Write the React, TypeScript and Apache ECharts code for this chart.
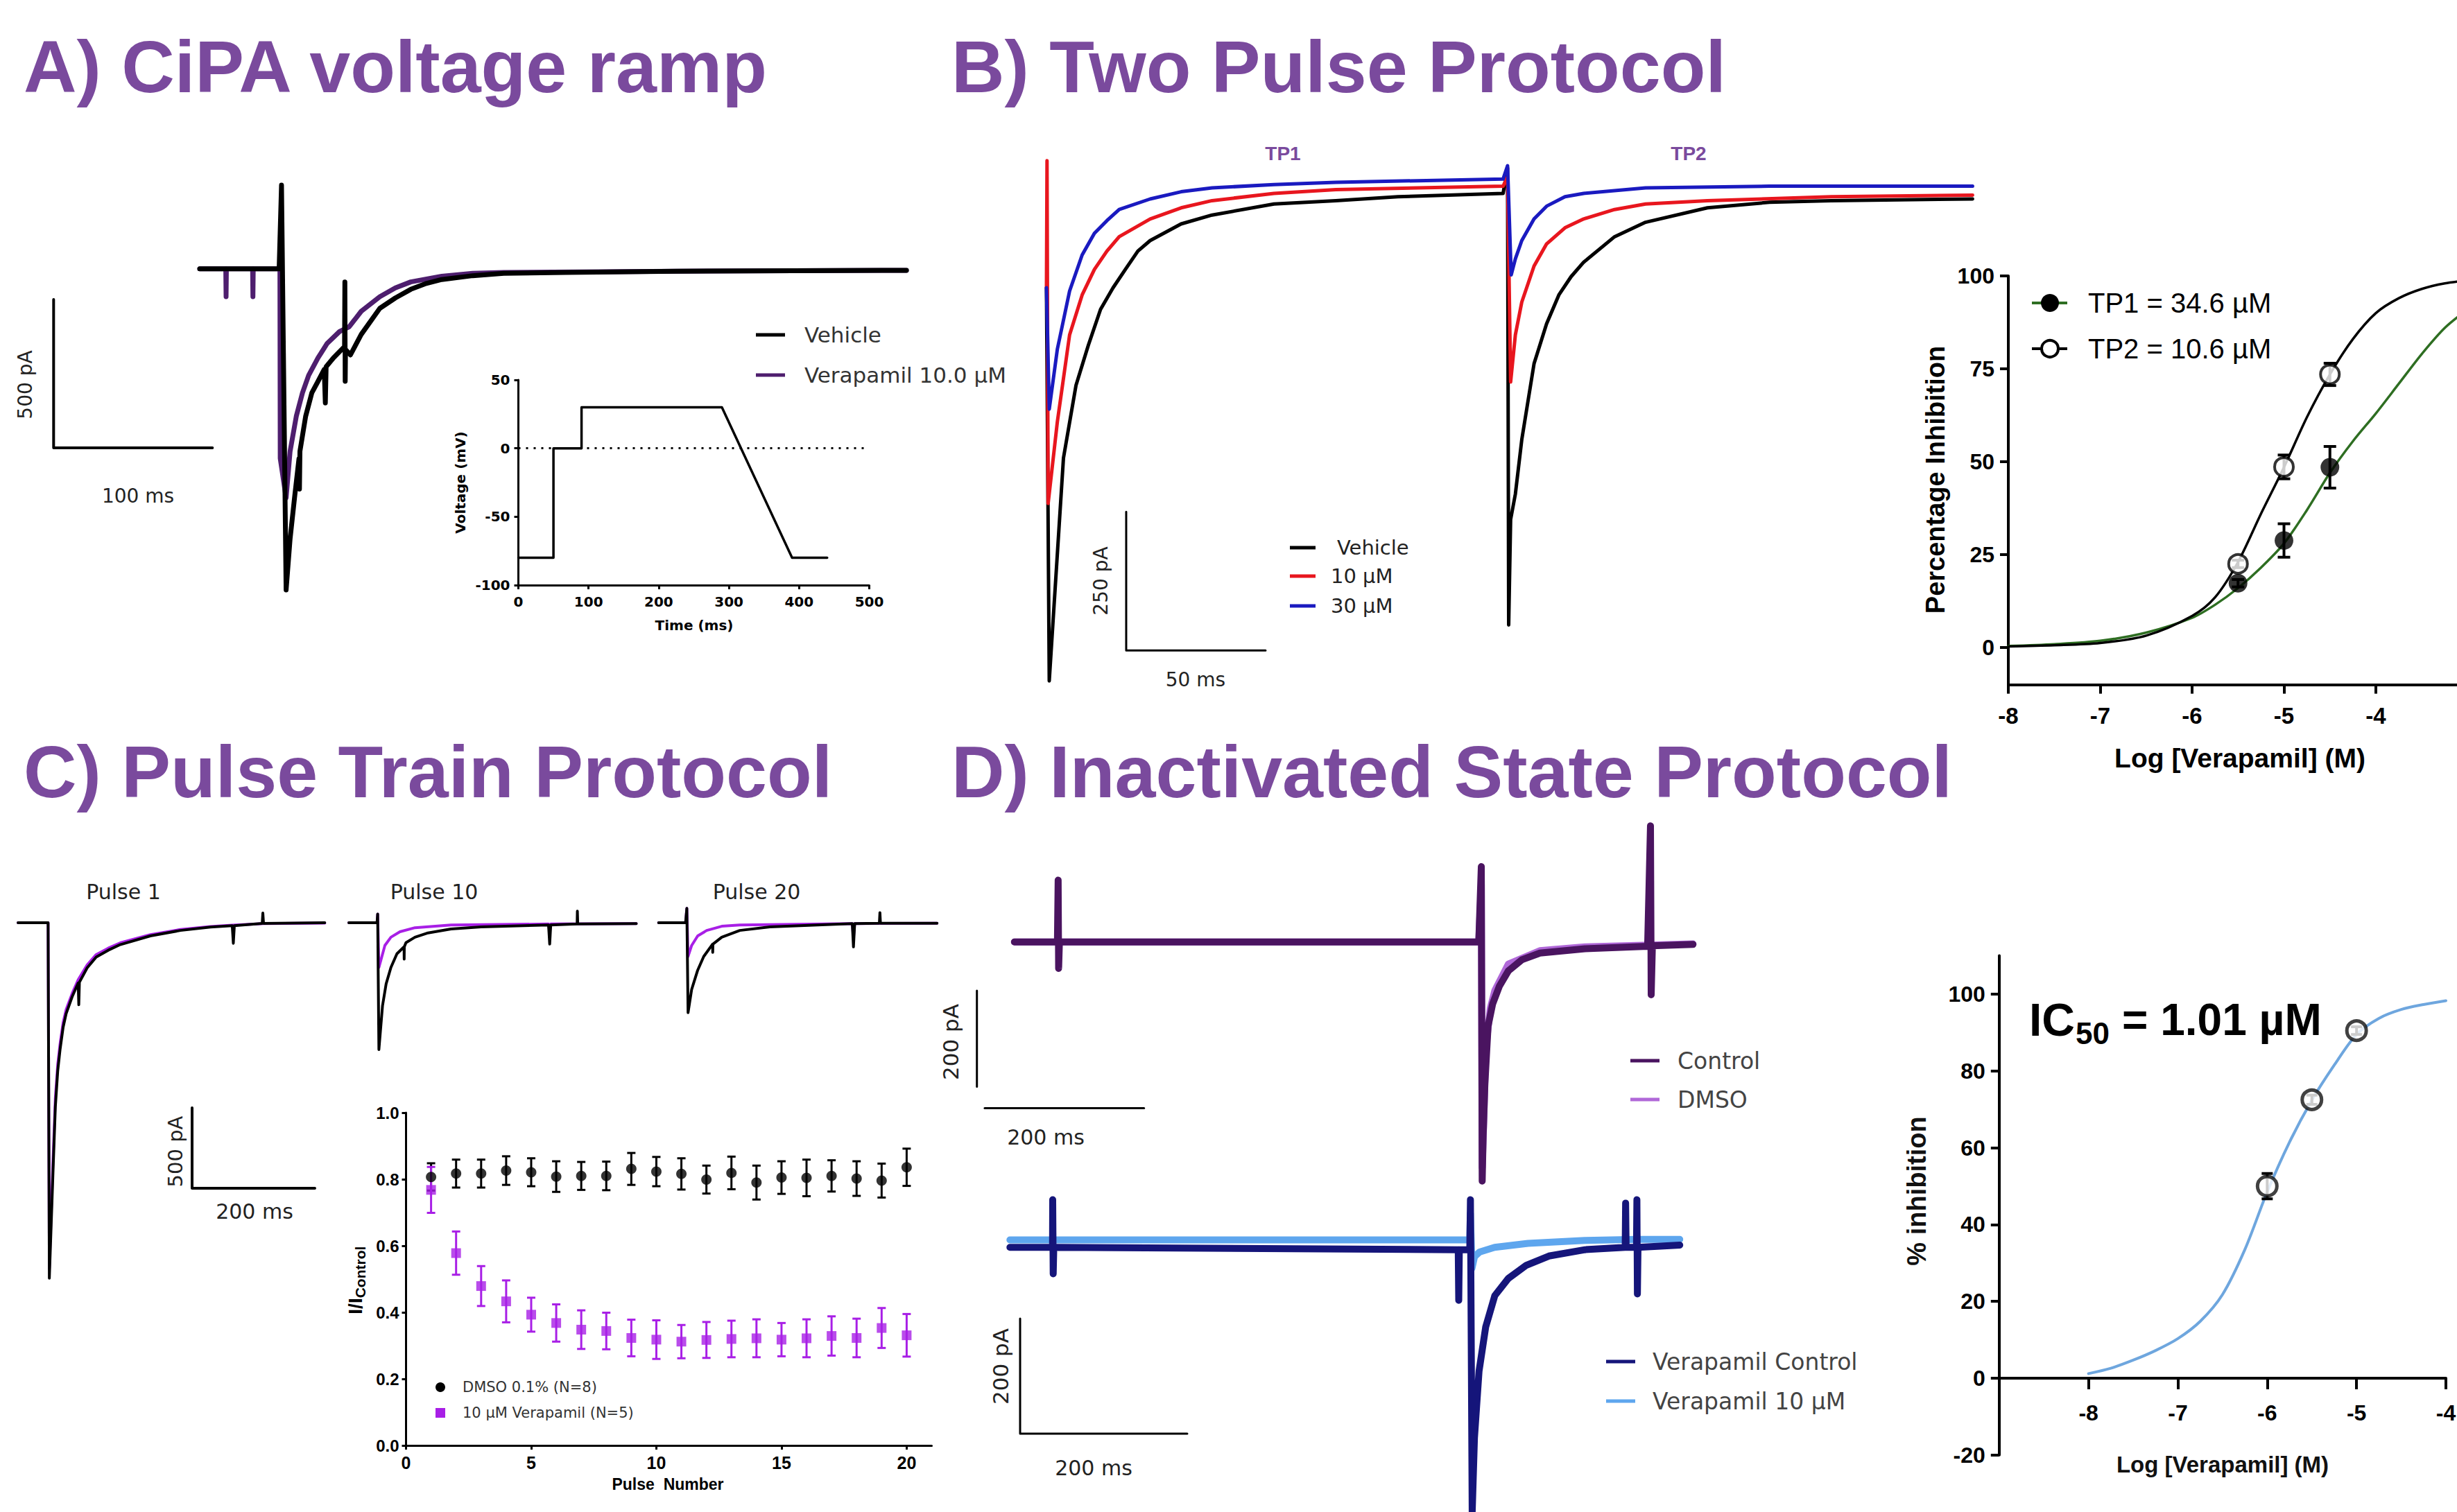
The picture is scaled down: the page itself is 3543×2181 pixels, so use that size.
import React, { useEffect, useRef } from 'react';
import * as echarts from 'echarts';

type Pt = [number, number];

const W = 3543;
const H = 2181;
const SANS = '"Liberation Sans", Arial, sans-serif';
const GOTHIC = '"DejaVu Sans", sans-serif';

// ---------------- Panel A : CiPA voltage ramp (time ms, current pA) ----------------
const rampVehicle: Pt[] = [
  [0, 0], [50, 0], [51.5, 282], [54.4, -1082], [56.9, -910], [59.9, -762], [62.5, -640], [62.8, -742],
  [63.1, -615], [66.7, -497], [70.6, -418], [74.5, -379], [78.4, -339], [79.1, -452], [79.6, -330],
  [84.2, -300], [91.2, -262], [91.4, -44], [91.6, -379], [91.8, -272], [94.9, -290], [101.7, -221],
  [113.4, -133], [123.2, -98], [132.9, -69], [142.7, -49], [152.4, -36], [171.9, -23], [191.4, -15],
  [230.4, -12], [300, -8], [445, -5],
];
const rampVerapamil: Pt[] = [
  [0, 0], [16.4, 0], [16.6, -94], [16.8, 0], [33.3, 0], [33.5, -94], [33.7, 0], [50.5, 0], [50.7, -639],
  [54.4, -772], [56.9, -615], [60.8, -497], [64.7, -418], [68.6, -359], [74.5, -300], [80.3, -251],
  [88.1, -211], [94, -196], [101.7, -143], [113.4, -94], [123.2, -64], [132.9, -44], [152.4, -25],
  [171.9, -15], [191.4, -12], [300, -8], [445, -5],
];
const rampScaleBar = { t: -92, i: -603, dt: 100, di: 500 };
const protocolTime = [0, 50, 50, 90, 90, 290, 390, 440];
const protocolVoltage = [-80, -80, 0, 0, 30, 30, -80, -80];

// ---------------- Panel B : two pulse protocol ----------------
const tpVehicle: Pt[] = [
  [0, -170], [1.0, -879], [6.1, -477], [10.6, -346], [15, -274], [19.4, -209], [23.9, -170], [28.3, -137],
  [32.8, -104], [37.2, -85], [48.3, -55], [59.4, -39], [81.6, -19], [103.8, -13], [126.1, -6], [163.8, 0],
  [165.4, 46], [165.8, -778], [166.5, -588], [168.2, -542], [170.5, -444], [174.9, -307], [179.4, -235],
  [183.8, -183], [188.2, -150], [192.7, -124], [203.8, -78], [214.9, -52], [237.1, -26], [259.3, -16],
  [281.5, -13], [332.2, -10],
];
const tp10uM: Pt[] = [
  [0, -170], [0.2, 59], [0.6, -559], [3.9, -412], [8.3, -255], [12.8, -183], [17.2, -137], [21.7, -104],
  [26.1, -78], [37.2, -46], [48.3, -26], [59.4, -13], [81.6, 0], [103.8, 7], [163.8, 13], [165.4, 30],
  [166.5, -340], [168.2, -255], [170.5, -196], [174.9, -131], [179.4, -91], [186, -62], [192.7, -46],
  [203.8, -29], [214.9, -19], [237.1, -13], [281.5, -6], [332.2, -3],
];
const tp30uM: Pt[] = [
  [0, -170], [1.0, -389], [3.9, -281], [8.3, -176], [12.8, -111], [17.2, -72], [21.7, -49], [26.1, -29],
  [37.2, -10], [48.3, 3], [59.4, 10], [81.6, 16], [103.8, 20], [163.8, 26], [165.4, 50], [166.7, -147],
  [168.2, -118], [170.5, -85], [174.9, -46], [179.4, -23], [186, -6], [192.7, 0], [214.9, 10], [259.3, 13],
  [332.2, 13],
];
const tpScaleBar = { t: 28.6, i: -824, dt: 50, di: 250 };

const bLogConc = [-5.5, -5, -4.5];
const tp1Mean = [17.3, 28.8, 48.5];
const tp1Err = [1, 4.5, 5.6];
const tp2Mean = [22.5, 48.6, 73.5];
const tp2Err = [1, 3.2, 3.0];
const bFitX = [-8, -7.5, -7, -6.5, -6, -5.75, -5.5, -5.25, -5, -4.75, -4.5, -4.25, -4, -3.75, -3.5, -3.25, -3];
const tp1Fit = [0.4, 0.9, 1.8, 4, 8, 11.5, 16, 21.5, 28, 37, 47, 55.5, 63, 71, 79, 86, 91];
const tp2Fit = [0.3, 0.6, 1.2, 3.2, 8.5, 13.5, 23, 36, 48.5, 62, 73.5, 83, 90, 94, 96.5, 98, 98.8];
const bTicks = [-8, -7, -6, -5, -4];

// ---------------- Panel C : pulse train ----------------
const pulse1Dmso: Pt[] = [
  [0, 0], [49, 0], [51, -2210], [56.8, -1570], [60.8, -1145], [64.7, -920], [68.6, -785], [73.5, -650],
  [78.4, -565], [88.2, -460], [98, -375], [99, -510], [100, -370], [112.7, -280], [127.4, -213],
  [147, -171], [166.6, -136], [215.6, -82], [264.6, -48], [313.6, -27], [349, -18], [350.8, -128],
  [352.5, -18], [397.9, -4], [398.9, 60], [400, -4], [499.8, 0],
];
const pulse1Verapamil: Pt[] = [
  [0, 0], [49, 0], [51, -2150], [56.8, -1500], [60.8, -1090], [64.7, -880], [68.6, -750], [73.5, -620],
  [78.4, -540], [88.2, -440], [98, -355], [112.7, -262], [127.4, -198], [147, -158], [166.6, -125],
  [215.6, -74], [264.6, -42], [313.6, -24], [349, -15], [400, -5], [499.8, -2],
];
const pulse10Dmso: Pt[] = [
  [0, 0], [46, 0], [47, 54], [49, -789], [54.9, -516], [60.8, -380], [68.6, -278], [78.4, -193], [90, -150],
  [90.2, -226], [90.4, -150], [93.1, -124], [107.8, -90], [127.4, -65], [166.6, -39], [215.6, -26],
  [325.4, -14], [327.3, -133], [329, -14], [372, -8], [372.4, 72], [373, -8], [468.4, -5],
];
const pulse10Verapamil: Pt[] = [
  [0, 0], [46, 0], [47, 54], [49, -278], [58.8, -141], [68.6, -90], [83.3, -56], [107.8, -31], [166.6, -14],
  [325.4, -8], [327.3, -60], [329, -8], [468.4, -5],
];
const pulse20Dmso: Pt[] = [
  [0, 0], [44, 0], [46, 89], [48, -559], [53.9, -414], [63.7, -295], [73.5, -210], [88, -133], [88.2, -184],
  [88.5, -133], [102.9, -90], [132.3, -48], [181.3, -26], [315.6, -5], [317.5, -150], [319.5, -5],
  [359.7, -3], [360.6, 63], [361.5, -3], [453.7, -3],
];
const pulse20Verapamil: Pt[] = [
  [0, 0], [44, 0], [46, 89], [48, -210], [53.9, -141], [63.7, -82], [78.4, -48], [102.9, -22], [132.3, -14],
  [315.6, -5], [317.5, -100], [319.5, -5], [453.7, -3],
];
const pulseScaleBar = { t: 283.6, i: -1651, dt: 200, di: 500 };

const pulseNumbers = [1, 2, 3, 4, 5, 6, 7, 8, 9, 10, 11, 12, 13, 14, 15, 16, 17, 18, 19, 20];
const dmsoMean = [0.807, 0.817, 0.817, 0.826, 0.821, 0.808, 0.81, 0.81, 0.831, 0.823, 0.816, 0.799, 0.819, 0.79, 0.805, 0.804, 0.81, 0.802, 0.796, 0.836];
const dmsoErr = [0.041, 0.042, 0.042, 0.043, 0.042, 0.046, 0.042, 0.043, 0.048, 0.044, 0.047, 0.042, 0.049, 0.051, 0.049, 0.055, 0.047, 0.052, 0.051, 0.056];
const verMean = [0.768, 0.578, 0.479, 0.433, 0.393, 0.368, 0.348, 0.344, 0.323, 0.318, 0.312, 0.317, 0.32, 0.322, 0.318, 0.322, 0.329, 0.323, 0.353, 0.331];
const verErr = [0.069, 0.065, 0.06, 0.063, 0.051, 0.056, 0.058, 0.055, 0.055, 0.058, 0.05, 0.054, 0.055, 0.057, 0.05, 0.057, 0.059, 0.058, 0.06, 0.064];
const pulseTicks = [0, 5, 10, 15, 20];

// ---------------- Panel D : inactivated state ----------------
const dControl: Pt[] = [
  [0, 0], [54, 0], [54.9, 129], [55.5, -55], [56.5, 0], [583, 0], [586.2, 157], [587.3, -498], [588.5, -405],
  [590.7, -295], [594.7, -175], [600.4, -129], [608.9, -92], [620.2, -60], [637.2, -37], [659.8, -23],
  [716.5, -14], [795, -9], [798.6, 242], [799.5, -110], [801, -8], [852, -5],
];
const dDmso: Pt[] = [
  [0, 0], [583, 0], [586.2, 120], [587.3, -470], [589, -387], [591.9, -221], [597.5, -138], [603.2, -101],
  [620.2, -46], [659.8, -18], [716.5, -10], [852, -4],
];
const dVerControl: Pt[] = [
  [0, -4], [51, -4], [51.2, 79], [51.8, -50], [52.5, -4], [536.5, -8], [537.1, -96], [537.8, -8], [550.3, -8],
  [551.1, 79], [553.2, -464], [555.9, -335], [561.4, -219], [569.4, -142], [580.2, -88], [596.4, -58],
  [618, -35], [645, -19], [688.2, -8], [736.3, -4], [736.8, 73], [737.4, -4], [749.8, -4], [750.3, 79],
  [750.9, -85], [751.6, -4], [801.6, 0],
];
const dVer10: Pt[] = [
  [0, 9], [550.3, 9], [551, 55], [553, -40], [556, -20], [562, -12], [580, -4], [620, 3], [688, 8],
  [750, 10], [801.6, 10],
];
const dTopScaleV = { t: -47.1, i1: -101.4, i2: -301.4 };
const dTopScaleH = { i: -346, t1: -37.3, t2: 162.7 };
const dBotScaleBar = { t: 12.2, i: -327.7, dt: 200, di: 200 };

const dLogConc = [-6, -5.5, -5];
const dMean = [50, 72.5, 90.5];
const dErr = [3.3, 1.2, 1.0];
const dFitX = [-8, -7.75, -7.5, -7.25, -7, -6.75, -6.5, -6.25, -6, -5.75, -5.5, -5.25, -5, -4.75, -4.5, -4.25, -4];
const dFitY = [1.2, 2.6, 4.7, 7.2, 10.3, 14.8, 21.8, 33.5, 48.5, 61.5, 72.4, 81.5, 89.5, 93.7, 96, 97.3, 98.3];
const dXTicks = [-8, -7, -6, -5, -4];
const dYTicks = [-20, 0, 20, 40, 60, 80, 100];

// ---------------- colours ----------------
const TITLE_PURPLE = '#7A4A9D';
const A_PURPLE = '#4E1E6E';
const B_RED = '#E8161E';
const B_BLUE = '#1A1AC0';
const GREEN = '#2E6E22';
const C_PURPLE = '#A81FE6';
const D_CONTROL = '#4A1460';
const D_DMSO = '#B068D8';
const D_NAVY = '#15157A';
const D_LIGHT = '#5EA6EE';
const D_FIT = '#6EA6DE';

// ---------------- helpers ----------------
type Frame = { x0: number; y0: number; sx: number; sy: number; t: [number, number]; i: [number, number] };

const frameA: Frame = { x0: 288, y0: 387.8, sx: 2.29, sy: 0.428, t: [-100, 450], i: [-1150, 300] };
const frameB: Frame = { x0: 1509, y0: 279, sx: 4.02, sy: 0.8, t: [-5, 335], i: [-950, 100] };
const frameC1: Frame = { x0: 26, y0: 1331, sx: 0.885, sy: 0.232, t: [0, 510], i: [-2300, 150] };
const frameC10: Frame = { x0: 503, y0: 1331, sx: 0.885, sy: 0.232, t: [0, 510], i: [-2300, 150] };
const frameC20: Frame = { x0: 949.7, y0: 1331, sx: 0.885, sy: 0.232, t: [0, 510], i: [-2300, 150] };
const frameDTop: Frame = { x0: 1462.8, y0: 1358.8, sx: 1.1485, sy: 0.6925, t: [-60, 880], i: [-520, 300] };
const frameDBot: Frame = { x0: 1456.3, y0: 1796, sx: 1.205, sy: 0.83, t: [-20, 820], i: [-470, 120] };

// D dose-response layout: y = 0 sits 110.8 px above the grid bottom
const dDoseGrid = { left: 2882.8, top: 1378.6, width: 644.2, height: 720.2 };
const dZeroOffset = -110.8;

function frameGrid(f: Frame) {
  return {
    left: f.x0 + f.t[0] * f.sx,
    top: f.y0 - f.i[1] * f.sy,
    width: (f.t[1] - f.t[0]) * f.sx,
    height: (f.i[1] - f.i[0]) * f.sy,
    containLabel: false,
    outerBoundsMode: 'none',
  };
}
function hiddenX(g: number, f: Frame) {
  return { gridIndex: g, type: 'value', show: false, min: f.t[0], max: f.t[1] };
}
function hiddenY(g: number, f: Frame) {
  return { gridIndex: g, type: 'value', show: false, min: f.i[0], max: f.i[1] };
}
function trace(g: number, data: Pt[], color: string, width: number, z = 2) {
  return {
    type: 'line', xAxisIndex: g, yAxisIndex: g, data, symbol: 'none', showSymbol: false, silent: true, z,
    lineStyle: { color, width, join: 'round', cap: 'round' }, emphasis: { disabled: true },
  };
}
function lBar(g: number, b: { t: number; i: number; dt: number; di: number }, width: number) {
  return trace(g, [[b.t, b.i + b.di], [b.t, b.i], [b.t + b.dt, b.i]], '#000', width, 5);
}
function errBars(g: number, xs: number[], mean: number[], err: number[], color: string, width: number, cap: number) {
  return {
    type: 'custom', coordinateSystem: 'cartesian2d', xAxisIndex: g, yAxisIndex: g, silent: true, z: 3,
    data: xs.map((x, k) => [x, mean[k] - err[k], mean[k] + err[k]]),
    encode: { x: 0, y: [1, 2] },
    renderItem: (_p: any, api: any) => {
      const top = api.coord([api.value(0), api.value(2)]);
      const bot = api.coord([api.value(0), api.value(1)]);
      const st = { stroke: color, lineWidth: width };
      return {
        type: 'group',
        children: [
          { type: 'line', shape: { x1: top[0], y1: top[1], x2: bot[0], y2: bot[1] }, style: st },
          { type: 'line', shape: { x1: top[0] - cap, y1: top[1], x2: top[0] + cap, y2: top[1] }, style: st },
          { type: 'line', shape: { x1: bot[0] - cap, y1: bot[1], x2: bot[0] + cap, y2: bot[1] }, style: st },
        ],
      };
    },
  };
}
function txt(text: string, x: number, y: number, o: { size: number; weight?: string; family?: string; color?: string; align?: string; rotate?: number }) {
  return {
    type: 'text', x, y, rotation: o.rotate ?? 0, silent: true, z: 50,
    style: {
      text, fill: o.color ?? '#000', fontSize: o.size, fontWeight: o.weight ?? 'normal',
      fontFamily: o.family ?? SANS, align: o.align ?? 'left', verticalAlign: 'middle',
    },
  };
}
function hline(x1: number, x2: number, y: number, color: string, width: number) {
  return { type: 'line', silent: true, z: 50, shape: { x1, y1: y, x2, y2: y }, style: { stroke: color, lineWidth: width } };
}

function axisStyle(width: number, tickLen: number, labelSize: number, margin: number, family = SANS) {
  return {
    axisLine: { show: true, onZero: false, lineStyle: { color: '#000', width } },
    axisTick: { show: true, length: tickLen, lineStyle: { color: '#000', width } },
    axisLabel: { show: true, margin, fontSize: labelSize, fontWeight: 'bold', fontFamily: family, color: '#000' },
    splitLine: { show: false },
  };
}

function buildOption() {
  const grids = [
    frameGrid(frameA), // 0
    { left: 747.5, top: 548, width: 506, height: 296, containLabel: false, outerBoundsMode: 'none' }, // 1 inset
    frameGrid(frameB), // 2
    { left: 2896, top: 398, width: 662.5, height: 589.6, containLabel: false, outerBoundsMode: 'none' }, // 3
    frameGrid(frameC1), // 4
    frameGrid(frameC10), // 5
    frameGrid(frameC20), // 6
    { left: 585.5, top: 1605, width: 758, height: 480, containLabel: false, outerBoundsMode: 'none' }, // 7
    frameGrid(frameDTop), // 8
    frameGrid(frameDBot), // 9
    { ...dDoseGrid, containLabel: false, outerBoundsMode: 'none' }, // 10
  ];

  const insetX: any = { gridIndex: 1, type: 'value', min: 0, max: 500, interval: 100, ...axisStyle(3, 6, 20, 14, GOTHIC) };
  const insetY: any = { gridIndex: 1, type: 'value', min: -100, max: 50, interval: 50, ...axisStyle(3, 6, 20, 12, GOTHIC) };

  const bX: any = { gridIndex: 3, type: 'value', min: -8, max: -3, interval: 1, ...axisStyle(4, 13, 33, 28) };
  bX.axisTick.customValues = bTicks;
  bX.axisLabel.customValues = bTicks;
  const bY: any = { gridIndex: 3, type: 'value', min: -10, max: 100, ...axisStyle(4, 12, 32, 20) };
  bY.axisTick.customValues = [0, 25, 50, 75, 100];
  bY.axisLabel.customValues = [0, 25, 50, 75, 100];

  const cX: any = { gridIndex: 7, type: 'value', min: 0, max: 21, ...axisStyle(3, 6, 25, 12) };
  cX.axisTick.customValues = pulseTicks;
  cX.axisLabel.customValues = pulseTicks;
  const cY: any = { gridIndex: 7, type: 'value', min: 0, max: 1, interval: 0.2, ...axisStyle(3, 6, 24, 10) };
  cY.axisLabel.formatter = (v: number) => v.toFixed(1);

  const dX: any = { gridIndex: 10, type: 'value', min: -9, max: -4, position: 'bottom', offset: dZeroOffset, ...axisStyle(4, 16, 32, 34) };
  dX.axisTick.customValues = dXTicks;
  dX.axisLabel.customValues = dXTicks;
  const dY: any = { gridIndex: 10, type: 'value', min: -20, max: 110, ...axisStyle(4, 12, 32, 20) };
  dY.axisTick.customValues = dYTicks;
  dY.axisLabel.customValues = dYTicks;

  const xAxes = [
    hiddenX(0, frameA), insetX, hiddenX(2, frameB), bX, hiddenX(4, frameC1), hiddenX(5, frameC10),
    hiddenX(6, frameC20), cX, hiddenX(8, frameDTop), hiddenX(9, frameDBot), dX,
  ];
  const yAxes = [
    hiddenY(0, frameA), insetY, hiddenY(2, frameB), bY, hiddenY(4, frameC1), hiddenY(5, frameC10),
    hiddenY(6, frameC20), cY, hiddenY(8, frameDTop), hiddenY(9, frameDBot), dY,
  ];

  const series: any[] = [
    // A
    trace(0, rampVerapamil, A_PURPLE, 7),
    trace(0, rampVehicle, '#000', 7, 3),
    lBar(0, rampScaleBar, 4),
    {
      ...trace(1, protocolTime.map((t, k) => [t, protocolVoltage[k]] as Pt), '#000', 3.5),
      markLine: {
        silent: true, symbol: 'none', label: { show: false },
        lineStyle: { color: '#000', width: 3, type: [3, 8] },
        data: [{ yAxis: 0 }],
      },
    },
    // B traces
    trace(2, tpVehicle, '#000', 5, 2),
    trace(2, tp10uM, B_RED, 5, 3),
    trace(2, tp30uM, B_BLUE, 5, 4),
    lBar(2, tpScaleBar, 3),
    // B dose response
    { ...trace(3, bFitX.map((x, k) => [x, tp1Fit[k]] as Pt), GREEN, 3.5), smooth: 0.3 },
    { ...trace(3, bFitX.map((x, k) => [x, tp2Fit[k]] as Pt), '#000', 3.5), smooth: 0.3 },
    errBars(3, bLogConc, tp1Mean, tp1Err, '#000', 4, 9),
    errBars(3, bLogConc, tp2Mean, tp2Err, '#000', 4, 9),
    {
      type: 'scatter', xAxisIndex: 3, yAxisIndex: 3, silent: true, z: 6, symbol: 'circle', symbolSize: 27,
      itemStyle: { color: '#000' }, data: bLogConc.map((x, k) => [x, tp1Mean[k]]),
    },
    {
      type: 'scatter', xAxisIndex: 3, yAxisIndex: 3, silent: true, z: 7, symbol: 'circle', symbolSize: 27,
      itemStyle: { color: '#fff', borderColor: '#000', borderWidth: 4 }, data: bLogConc.map((x, k) => [x, tp2Mean[k]]),
    },
    // C traces
    trace(4, pulse1Verapamil, C_PURPLE, 4, 2),
    trace(4, pulse1Dmso, '#000', 4, 3),
    trace(5, pulse10Verapamil, C_PURPLE, 4, 2),
    trace(5, pulse10Dmso, '#000', 4, 3),
    trace(6, pulse20Verapamil, C_PURPLE, 4, 2),
    trace(6, pulse20Dmso, '#000', 4, 3),
    lBar(4, pulseScaleBar, 4),
    // C summary
    errBars(7, pulseNumbers, dmsoMean, dmsoErr, '#000', 3, 6),
    {
      type: 'scatter', xAxisIndex: 7, yAxisIndex: 7, silent: true, z: 6, symbol: 'circle', symbolSize: 15,
      itemStyle: { color: '#000' }, data: pulseNumbers.map((p, k) => [p, dmsoMean[k]]),
    },
    errBars(7, pulseNumbers, verMean, verErr, C_PURPLE, 3, 6),
    {
      type: 'scatter', xAxisIndex: 7, yAxisIndex: 7, silent: true, z: 7, symbol: 'rect', symbolSize: 14,
      itemStyle: { color: C_PURPLE }, data: pulseNumbers.map((p, k) => [p, verMean[k]]),
    },
    // D traces
    trace(8, dDmso, D_DMSO, 10, 2),
    trace(8, dControl, D_CONTROL, 10, 3),
    trace(8, [[dTopScaleV.t, dTopScaleV.i1], [dTopScaleV.t, dTopScaleV.i2]], '#000', 3, 5),
    trace(8, [[dTopScaleH.t1, dTopScaleH.i], [dTopScaleH.t2, dTopScaleH.i]], '#000', 3, 5),
    trace(9, dVer10, D_LIGHT, 10, 2),
    trace(9, dVerControl, D_NAVY, 10, 3),
    lBar(9, dBotScaleBar, 3),
    // D dose response
    { ...trace(10, dFitX.map((x, k) => [x, dFitY[k]] as Pt), D_FIT, 4), smooth: 0.3 },
    errBars(10, dLogConc, dMean, dErr, '#000', 4, 8),
    {
      type: 'scatter', xAxisIndex: 10, yAxisIndex: 10, silent: true, z: 7, symbol: 'circle', symbolSize: 28,
      itemStyle: { color: '#fff', borderColor: '#111', borderWidth: 5 }, data: dLogConc.map((x, k) => [x, dMean[k]]),
    },
  ];

  const R = Math.PI / 2;
  const graphics: any[] = [
    // titles
    txt('A) CiPA voltage ramp', 34, 96, { size: 106, weight: 'bold', color: TITLE_PURPLE }),
    txt('B) Two Pulse Protocol', 1372, 96, { size: 106, weight: 'bold', color: TITLE_PURPLE }),
    txt('C) Pulse Train Protocol', 34, 1113, { size: 106, weight: 'bold', color: TITLE_PURPLE }),
    txt('D) Inactivated State Protocol', 1372, 1113, { size: 106, weight: 'bold', color: TITLE_PURPLE }),
    // A labels
    txt('500 pA', 36, 555, { size: 28, family: GOTHIC, color: '#222', align: 'center', rotate: R }),
    txt('100 ms', 199, 715, { size: 28, family: GOTHIC, color: '#222', align: 'center' }),
    hline(1090, 1132, 483, '#000', 5),
    txt('Vehicle', 1160, 483, { size: 31, family: GOTHIC, color: '#333' }),
    hline(1090, 1132, 541, A_PURPLE, 5),
    txt('Verapamil 10.0 µM', 1160, 541, { size: 31, family: GOTHIC, color: '#333' }),
    txt('Time (ms)', 1001, 902, { size: 20, weight: 'bold', family: GOTHIC, align: 'center' }),
    txt('Voltage (mV)', 664, 696, { size: 20, weight: 'bold', family: GOTHIC, align: 'center', rotate: R }),
    // B labels
    txt('TP1', 1850, 221, { size: 28, weight: 'bold', color: TITLE_PURPLE, align: 'center' }),
    txt('TP2', 2435, 221, { size: 28, weight: 'bold', color: TITLE_PURPLE, align: 'center' }),
    txt('250 pA', 1587, 838, { size: 28, family: GOTHIC, color: '#222', align: 'center', rotate: R }),
    txt('50 ms', 1724, 980, { size: 28, family: GOTHIC, color: '#222', align: 'center' }),
    hline(1860, 1897, 790, '#000', 5),
    txt('Vehicle', 1928, 790, { size: 29, family: GOTHIC, color: '#222' }),
    hline(1860, 1897, 831, B_RED, 5),
    txt('10 µM', 1919, 831, { size: 29, family: GOTHIC, color: '#222' }),
    hline(1860, 1897, 874, B_BLUE, 5),
    txt('30 µM', 1919, 874, { size: 29, family: GOTHIC, color: '#222' }),
    hline(2930, 2981, 437, GREEN, 4),
    { type: 'circle', silent: true, z: 51, shape: { cx: 2956, cy: 437, r: 13 }, style: { fill: '#000' } },
    txt('TP1 = 34.6 µM', 3011, 437, { size: 40 }),
    hline(2930, 2981, 503, '#000', 4),
    { type: 'circle', silent: true, z: 51, shape: { cx: 2956, cy: 503, r: 12 }, style: { fill: '#fff', stroke: '#000', lineWidth: 4 } },
    txt('TP2 = 10.6 µM', 3011, 503, { size: 40 }),
    txt('Log [Verapamil] (M)', 3230, 1093, { size: 39, weight: 'bold', align: 'center' }),
    txt('Percentage Inhibition', 2791, 692, { size: 38, weight: 'bold', align: 'center', rotate: R }),
    // C labels
    txt('Pulse 1', 178, 1286, { size: 30, family: GOTHIC, color: '#222', align: 'center' }),
    txt('Pulse 10', 626, 1286, { size: 30, family: GOTHIC, color: '#222', align: 'center' }),
    txt('Pulse 20', 1091, 1286, { size: 30, family: GOTHIC, color: '#222', align: 'center' }),
    txt('500 pA', 253, 1661, { size: 29, family: GOTHIC, color: '#222', align: 'center', rotate: R }),
    txt('200 ms', 367, 1747, { size: 30, family: GOTHIC, color: '#222', align: 'center' }),
    { type: 'circle', silent: true, z: 51, shape: { cx: 635, cy: 2001, r: 7 }, style: { fill: '#000' } },
    txt('DMSO 0.1% (N=8)', 667, 2001, { size: 21, family: GOTHIC, color: '#333' }),
    { type: 'rect', silent: true, z: 51, shape: { x: 628, y: 2031, width: 14, height: 14 }, style: { fill: C_PURPLE } },
    txt('10 µM Verapamil (N=5)', 667, 2038, { size: 21, family: GOTHIC, color: '#333' }),
    txt('Pulse\u00a0 Number', 963, 2141, { size: 23, weight: 'bold', align: 'center' }),
    txt('I/I', 512, 1884, { size: 28, weight: 'bold', align: 'center', rotate: R }),
    txt('Control', 519, 1835, { size: 21, weight: 'bold', align: 'center', rotate: R }),
    // D labels
    txt('200 pA', 1371, 1503, { size: 31, family: GOTHIC, color: '#222', align: 'center', rotate: R }),
    txt('200 ms', 1508, 1640, { size: 30, family: GOTHIC, color: '#222', align: 'center' }),
    txt('200 pA', 1443, 1971, { size: 31, family: GOTHIC, color: '#222', align: 'center', rotate: R }),
    txt('200 ms', 1577, 2117, { size: 30, family: GOTHIC, color: '#222', align: 'center' }),
    hline(2351, 2393, 1530, D_CONTROL, 5),
    txt('Control', 2419, 1530, { size: 33, family: GOTHIC, color: '#444' }),
    hline(2351, 2393, 1586, D_DMSO, 5),
    txt('DMSO', 2419, 1586, { size: 33, family: GOTHIC, color: '#444' }),
    hline(2316, 2358, 1964, D_NAVY, 5),
    txt('Verapamil Control', 2383, 1964, { size: 33, family: GOTHIC, color: '#444' }),
    hline(2316, 2358, 2021, D_LIGHT, 5),
    txt('Verapamil 10 µM', 2383, 2021, { size: 33, family: GOTHIC, color: '#444' }),
    txt('IC', 2926, 1471, { size: 66, weight: 'bold' }),
    txt('50', 2993, 1490, { size: 44, weight: 'bold' }),
    txt('= 1.01 µM', 3060, 1471, { size: 64, weight: 'bold' }),
    txt('Log [Verapamil] (M)', 3205, 2112, { size: 33, weight: 'bold', align: 'center', color: '#111' }),
    txt('% inhibition', 2764, 1718, { size: 38, weight: 'bold', align: 'center', rotate: R, color: '#111' }),
  ];

  return {
    animation: false,
    backgroundColor: '#ffffff',
    textStyle: { fontFamily: SANS },
    grid: grids,
    xAxis: xAxes,
    yAxis: yAxes,
    series,
    graphic: graphics,
  };
}

export default function App() {
  const ref = useRef<HTMLDivElement>(null);
  useEffect(() => {
    if (!ref.current) return;
    const chart = echarts.init(ref.current, null, { renderer: 'svg', width: W, height: H });
    chart.setOption(buildOption() as any);
    return () => chart.dispose();
  }, []);
  return (
    <div
      ref={ref}
      style={{ position: 'absolute', left: 0, top: 0, width: W, height: H, background: '#fff', overflow: 'hidden' }}
    />
  );
}
